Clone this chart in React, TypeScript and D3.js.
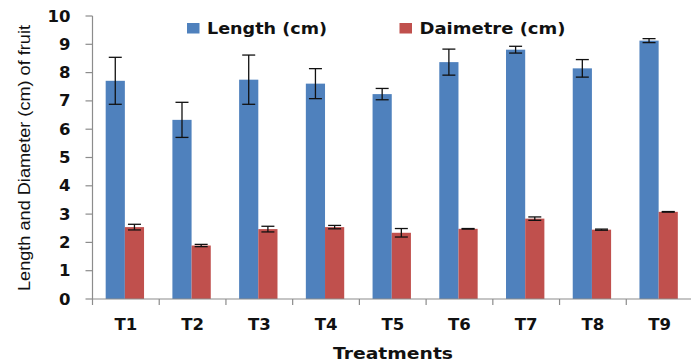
import React from 'react';
import * as d3 from 'd3';

const treatments = ['T1', 'T2', 'T3', 'T4', 'T5', 'T6', 'T7', 'T8', 'T9'];
const lengthMean = [7.71, 6.33, 7.75, 7.61, 7.24, 8.37, 8.81, 8.15, 9.13];
const lengthErr = [0.83, 0.62, 0.87, 0.53, 0.2, 0.46, 0.12, 0.31, 0.07];
const diameterMean = [2.54, 1.89, 2.47, 2.54, 2.34, 2.48, 2.84, 2.45, 3.08];
const diameterErr = [0.1, 0.04, 0.1, 0.06, 0.15, 0.01, 0.06, 0.02, 0.01];
const seriesNames = ['Length (cm)', 'Daimetre (cm)'];
const seriesColors = ['#4f81bd', '#c0504d'];
const yTicks = [0, 1, 2, 3, 4, 5, 6, 7, 8, 9, 10];

const W = 691;
const H = 364;
const font = '"DejaVu Sans", Verdana, sans-serif';
const axisColor = '#8c8c8c';

const App = () => {
  // chart area
  const left = 92.5;
  const right = 693;
  const top = 16;
  const bottom = 299;

  const x = d3.scaleBand<string>().domain(treatments).range([left, right]).padding(0);
  const y = d3.scaleLinear().domain([0, 10]).range([bottom, top]);

  // two bars side by side inside each category
  const groupW = x.bandwidth() * 0.575;
  const inner = d3
    .scaleBand<number>()
    .domain([0, 1])
    .range([0, groupW])
    .padding(0);

  const series = [
    { mean: lengthMean, err: lengthErr },
    { mean: diameterMean, err: diameterErr },
  ];

  const cap = 6.5;

  return (
    <svg width={W} height={H} style={{ position: 'absolute', left: 0, top: 0, background: '#fff' }}>
      {/* bars */}
      {series.map((s, si) =>
        treatments.map((t, i) => {
          const bx = (x(t) as number) + (x.bandwidth() - groupW) / 2 - 1 + (inner(si) as number);
          return (
            <rect
              key={`b${si}-${i}`}
              x={bx}
              y={y(s.mean[i])}
              width={inner.bandwidth()}
              height={y(0) - y(s.mean[i])}
              fill={seriesColors[si]}
            />
          );
        })
      )}

      {/* error bars */}
      {series.map((s, si) =>
        treatments.map((t, i) => {
          const cx =
            (x(t) as number) + (x.bandwidth() - groupW) / 2 - 1 + (inner(si) as number) + inner.bandwidth() / 2;
          const hi = y(s.mean[i] + s.err[i]);
          const lo = y(s.mean[i] - s.err[i]);
          return (
            <g key={`e${si}-${i}`} stroke="#111" strokeWidth={1.3}>
              <line x1={cx} x2={cx} y1={hi} y2={lo} />
              <line x1={cx - cap} x2={cx + cap} y1={hi} y2={hi} />
              <line x1={cx - cap} x2={cx + cap} y1={lo} y2={lo} />
            </g>
          );
        })
      )}

      {/* y axis */}
      <line x1={left} x2={left} y1={top} y2={bottom} stroke={axisColor} strokeWidth={1.2} />
      {yTicks.map((v) => (
        <g key={`yt${v}`}>
          <line x1={left - 7} x2={left} y1={y(v)} y2={y(v)} stroke={axisColor} strokeWidth={1.2} />
          <text
            x={70.5}
            y={y(v) + 5.5}
            textAnchor="end"
            fontFamily={font}
            fontWeight="bold"
            fontSize={16.5}
            fill="#111"
          >
            {v}
          </text>
        </g>
      ))}

      {/* x axis */}
      <line x1={left} x2={right} y1={bottom} y2={bottom} stroke={axisColor} strokeWidth={1.2} />
      {treatments.map((t) => (
        <line
          key={`xt${t}`}
          x1={x(t) as number}
          x2={x(t) as number}
          y1={bottom}
          y2={bottom + 6}
          stroke={axisColor}
          strokeWidth={1.2}
        />
      ))}
      {treatments.map((t) => (
        <text
          key={`xl${t}`}
          x={(x(t) as number) + x.bandwidth() / 2}
          y={330}
          textAnchor="middle"
          fontFamily={font}
          fontWeight="bold"
          fontSize={16.5}
          fill="#111"
        >
          {t}
        </text>
      ))}

      {/* axis titles */}
      <text
        x={393}
        y={359}
        textAnchor="middle"
        fontFamily={font}
        fontWeight="bold"
        fontSize={15}
        textLength={120}
        lengthAdjust="spacingAndGlyphs"
        fill="#111"
      >
        Treatments
      </text>
      <text
        transform="translate(30,158) rotate(-90)"
        textAnchor="middle"
        fontFamily='"Liberation Sans", Arial, sans-serif'
        fontSize={16.5}
        textLength={266}
        lengthAdjust="spacingAndGlyphs"
        fill="#111"
      >
        Length and Diameter (cm) of fruit
      </text>

      {/* legend */}
      {seriesNames.map((n, i) => {
        const lx = [187, 399.5][i];
        const tl = [120, 146][i];
        return (
          <g key={`lg${i}`}>
            <rect x={lx} y={23} width={12.5} height={10.5} fill={seriesColors[i]} />
            <text
              x={lx + 20}
              y={34}
              fontFamily={font}
              fontWeight="bold"
              fontSize={15.5}
              textLength={tl}
              lengthAdjust="spacingAndGlyphs"
              fill="#111"
            >
              {n}
            </text>
          </g>
        );
      })}
    </svg>
  );
};

export default App;
